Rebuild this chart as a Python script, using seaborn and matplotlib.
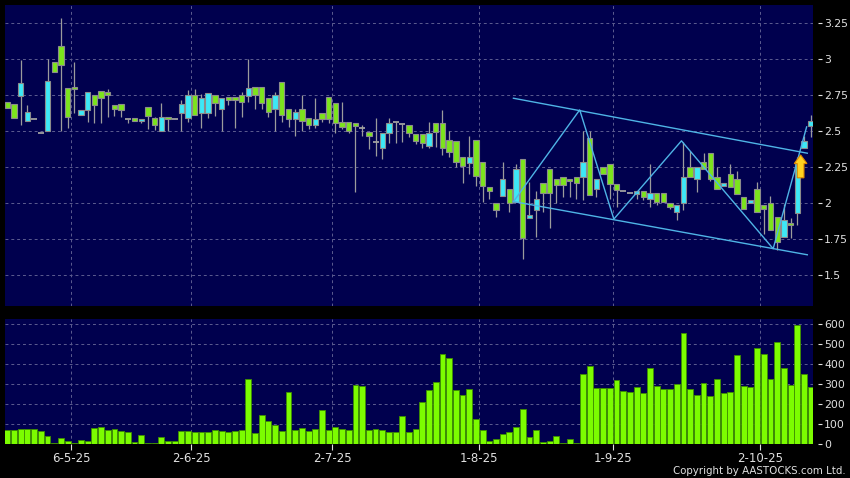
import numpy as np
import pandas as pd
import matplotlib
matplotlib.use("Agg")
import matplotlib.pyplot as plt
import seaborn as sns
from matplotlib.ticker import FuncFormatter

opens = [2.70, 2.69, 2.745, 2.57, 2.585, 2.49, 2.50, 2.98, 3.09, 2.80,
         2.81, 2.61, 2.65, 2.75, 2.78, 2.77, 2.68, 2.69, 2.585, 2.59,
         2.572, 2.67, 2.59, 2.50, 2.60, 2.585, 2.625, 2.59, 2.75, 2.625,
         2.625, 2.75, 2.655, 2.74, 2.74, 2.75, 2.745, 2.81, 2.81, 2.73,
         2.655, 2.84, 2.655, 2.585, 2.655, 2.59, 2.54, 2.625, 2.74, 2.695,
         2.565, 2.565, 2.555, 2.52, 2.495, 2.425, 2.38, 2.485, 2.565, 2.55,
         2.54, 2.48, 2.48, 2.40, 2.56, 2.56, 2.44, 2.43, 2.32, 2.28,
         2.44, 2.285, 2.115, 2.00, 2.05, 2.10, 2.01, 2.305, 1.895, 1.955,
         2.14, 2.24, 2.17, 2.18, 2.17, 2.18, 2.18, 2.45, 2.095, 2.25,
         2.27, 2.13, 2.085, 2.07, 2.065, 2.085, 2.03, 2.07, 2.07, 2.00,
         1.935, 2.00, 2.25, 2.165, 2.285, 2.345, 2.185, 2.12, 2.20, 2.17,
         2.045, 2.00, 2.10, 1.985, 2.00, 1.905, 1.765, 1.86, 1.93, 2.38, 2.535]
highs = [2.70, 2.69, 2.995, 2.68, 2.585, 2.49, 3.00, 2.98, 3.285, 2.80,
         2.98, 2.645, 2.77, 2.75, 2.78, 2.795, 2.68, 2.69, 2.585, 2.59,
         2.586, 2.67, 2.60, 2.695, 2.60, 2.585, 2.72, 2.785, 2.79, 2.76,
         2.765, 2.75, 2.73, 2.74, 2.74, 2.77, 3.00, 2.81, 2.81, 2.73,
         2.77, 2.84, 2.655, 2.655, 2.75, 2.59, 2.73, 2.625, 2.74, 2.695,
         2.70, 2.565, 2.555, 2.545, 2.495, 2.59, 2.485, 2.59, 2.565, 2.55,
         2.54, 2.48, 2.48, 2.565, 2.56, 2.65, 2.50, 2.43, 2.32, 2.47,
         2.44, 2.285, 2.115, 2.00, 2.285, 2.10, 2.275, 2.305, 2.15, 2.085,
         2.14, 2.24, 2.17, 2.18, 2.17, 2.18, 2.50, 2.50, 2.17, 2.25,
         2.27, 2.13, 2.085, 2.07, 2.085, 2.085, 2.275, 2.07, 2.07, 2.00,
         1.99, 2.425, 2.365, 2.25, 2.345, 2.345, 2.25, 2.14, 2.275, 2.225,
         2.045, 2.02, 2.145, 1.985, 2.05, 1.905, 1.995, 1.90, 2.32, 2.47, 2.61]
lows = [2.66, 2.59, 2.54, 2.57, 2.585, 2.49, 2.50, 2.91, 2.50, 2.52,
        2.625, 2.61, 2.565, 2.56, 2.56, 2.60, 2.605, 2.60, 2.555, 2.572,
        2.555, 2.515, 2.51, 2.50, 2.50, 2.585, 2.50, 2.565, 2.61, 2.52,
        2.59, 2.605, 2.50, 2.68, 2.52, 2.60, 2.70, 2.655, 2.655, 2.60,
        2.50, 2.565, 2.53, 2.465, 2.50, 2.515, 2.52, 2.565, 2.555, 2.49,
        2.515, 2.49, 2.075, 2.47, 2.375, 2.325, 2.31, 2.42, 2.415, 2.425,
        2.46, 2.41, 2.38, 2.38, 2.39, 2.335, 2.32, 2.25, 2.14, 2.205,
        2.12, 2.01, 2.03, 1.905, 2.05, 1.94, 2.01, 1.615, 1.895, 1.765,
        1.94, 1.825, 2.00, 2.045, 2.045, 2.03, 2.025, 2.055, 2.045, 2.205,
        2.03, 1.97, 2.085, 2.07, 2.03, 2.025, 1.97, 1.99, 2.005, 1.96,
        1.885, 1.95, 2.185, 2.08, 2.24, 2.155, 2.10, 2.12, 2.115, 2.065,
        1.96, 2.00, 1.935, 1.785, 1.815, 1.675, 1.765, 1.76, 1.845, 2.38, 2.46]
closes = [2.66, 2.59, 2.835, 2.63, 2.585, 2.49, 2.85, 2.91, 2.96, 2.60,
          2.79, 2.645, 2.77, 2.685, 2.73, 2.75, 2.655, 2.65, 2.585, 2.572,
          2.586, 2.605, 2.545, 2.60, 2.585, 2.585, 2.69, 2.75, 2.61, 2.73,
          2.765, 2.695, 2.73, 2.715, 2.715, 2.705, 2.80, 2.75, 2.695, 2.63,
          2.75, 2.61, 2.585, 2.63, 2.57, 2.54, 2.585, 2.585, 2.585, 2.56,
          2.53, 2.50, 2.535, 2.52, 2.465, 2.425, 2.485, 2.555, 2.565, 2.55,
          2.49, 2.43, 2.415, 2.49, 2.495, 2.38, 2.355, 2.285, 2.255, 2.32,
          2.19, 2.12, 2.085, 1.955, 2.17, 2.00, 2.235, 1.755, 1.915, 2.03,
          2.07, 2.07, 2.125, 2.125, 2.155, 2.14, 2.285, 2.055, 2.17, 2.205,
          2.135, 2.09, 2.085, 2.07, 2.085, 2.045, 2.07, 2.005, 2.005, 1.975,
          1.99, 2.185, 2.185, 2.25, 2.24, 2.17, 2.10, 2.14, 2.115, 2.065,
          1.96, 2.02, 1.935, 1.96, 1.815, 1.73, 1.885, 1.85, 2.27, 2.43, 2.57]
volumes = [72, 72, 75, 73, 73, 67, 38, 3, 32, 17,
           3, 20, 13, 80, 83, 68, 73, 63, 58, 10,
           47, 7, 7, 37, 17, 17, 67, 67, 58, 58,
           60, 68, 67, 60, 65, 68, 325, 57, 147, 113,
           95, 63, 258, 70, 82, 63, 77, 170, 70, 83,
           73, 72, 297, 292, 68, 75, 72, 62, 62, 142,
           60, 76, 212, 270, 312, 448, 428, 270, 245, 273,
           123, 70, 15, 23, 50, 60, 85, 173, 37, 72,
           10, 13, 38, 3, 23, 5, 348, 390, 282, 282,
           278, 320, 265, 258, 287, 255, 378, 290, 273, 273,
           302, 553, 275, 245, 303, 240, 325, 255, 258, 447,
           292, 287, 480, 448, 325, 508, 380, 297, 593, 348, 283]

tick_pos = [9.5, 27.5, 48.5, 70.5, 90.5, 112.5]
tick_labels = ["6-5-25", "2-6-25", "2-7-25", "1-8-25", "1-9-25", "2-10-25"]
price_ticks = [1.5, 1.75, 2.0, 2.25, 2.5, 2.75, 3.0, 3.25]
vol_ticks = [0, 100, 200, 300, 400, 500, 600]

upper_x = [75.6, 119.5]
upper_y = [2.729, 2.347]
lower_x = [75.6, 119.5]
lower_y = [2.011, 1.641]
zig_x = [75.6, 85.5, 90.6, 100.7, 114.4, 119.4]
zig_y = [2.01, 2.648, 1.889, 2.433, 1.683, 2.53]
arrow_x = 118.5
arrow_y = [2.176, 2.335]

NAVY = "#00004e"
CYAN = "#3de8f6"
GREEN = "#7ce41c"
VOLG = "#7cfc00"
GRID = "#5c5c90"
TXT = "#e0e0e0"

plt.rcParams['font.family'] = ['DejaVu Sans']

df = pd.DataFrame({"i": np.arange(len(opens)), "o": opens, "h": highs,
                   "l": lows, "c": closes, "v": volumes})

fig = plt.figure(figsize=(8.5, 4.78), dpi=100, facecolor="black")
ax1 = fig.add_axes([5/850, 1-306/478, 808/850, 301/478])
ax2 = fig.add_axes([5/850, 1-444/478, 808/850, 125/478])

for ax in (ax1, ax2):
    ax.set_facecolor(NAVY)
    for s in ax.spines.values():
        s.set_visible(False)
    ax.spines["right"].set_position(("outward", 3.5))
    ax.grid(True, color=GRID, linestyle=(0, (3, 3)), linewidth=0.7)
    ax.set_axisbelow(True)

# wicks
ax1.vlines(df["i"], df["l"], df["h"], color="#9c9c9c", linewidth=0.9, zorder=2)
# bodies
up = df[df["c"] > df["o"]]
dn = df[df["c"] < df["o"]]
dj = df[df["c"] == df["o"]]
ax1.bar(up["i"], up["c"] - up["o"], bottom=up["o"], width=0.8, color=CYAN,
        edgecolor="#8c8c8c", linewidth=0.8, zorder=3)
ax1.bar(dn["i"], dn["o"] - dn["c"], bottom=dn["c"], width=0.8, color=GREEN,
        edgecolor="#8c8c8c", linewidth=0.8, zorder=3)
ax1.hlines(dj["o"], dj["i"] - 0.45, dj["i"] + 0.45, color="#a0a0a0",
           linewidth=1.3, zorder=3)

# annotation lines
LINEC = "#4fb4e6"
ax1.plot(upper_x, upper_y, color=LINEC, linewidth=1.0, zorder=4)
ax1.plot(lower_x, lower_y, color=LINEC, linewidth=1.0, zorder=4)
ax1.plot(zig_x, zig_y, color=LINEC, linewidth=1.0, zorder=4)
ax1.arrow(arrow_x, arrow_y[0], 0, arrow_y[1] - arrow_y[0], width=1.0,
          head_width=1.9, head_length=0.06, length_includes_head=True,
          facecolor="#ffd21f", edgecolor="#e08a00", linewidth=0.8, zorder=5)

ax1.set_xlim(-0.35, 120.35)
ax1.set_ylim(1.285, 3.377)
ax1.set_xticks(tick_pos)
ax1.set_xticklabels([])
ax1.tick_params(axis="x", length=0)
ax1.yaxis.tick_right()
ax1.set_yticks(price_ticks)
ax1.yaxis.set_major_formatter(FuncFormatter(lambda v, p: f"{v:g}"))
ax1.tick_params(axis="y", colors=TXT, length=3, width=0.8, labelsize=7.8, pad=1.5)

# volume with seaborn
sns.barplot(data=df, x="i", y="v", native_scale=True, ax=ax2, color=VOLG,
            saturation=1, edgecolor="#3f8f00", linewidth=0.6, width=0.88,
            errorbar=None, zorder=3)
ax2.set_xlabel("")
ax2.set_ylabel("")
ax2.set_xlim(-0.35, 120.35)
ax2.set_ylim(0, 625)
ax2.set_xticks(tick_pos)
ax2.set_xticklabels(tick_labels)
ax2.yaxis.tick_right()
ax2.set_yticks(vol_ticks)
ax2.tick_params(axis="y", colors=TXT, length=3, width=0.8, labelsize=7.8, pad=1.5)
ax2.tick_params(axis="x", colors=TXT, length=4, width=0.8, labelsize=8.5, pad=2)
for t in ax2.xaxis.get_ticklines():
    t.set_color("#b0b0b0")

fig.text(846/850, 1-471.5/478, "Copyright by AASTOCKS.com Ltd.", ha="right",
         va="center", color=TXT, fontsize=7.4)

fig.savefig("out.png", dpi=100, facecolor="black")
